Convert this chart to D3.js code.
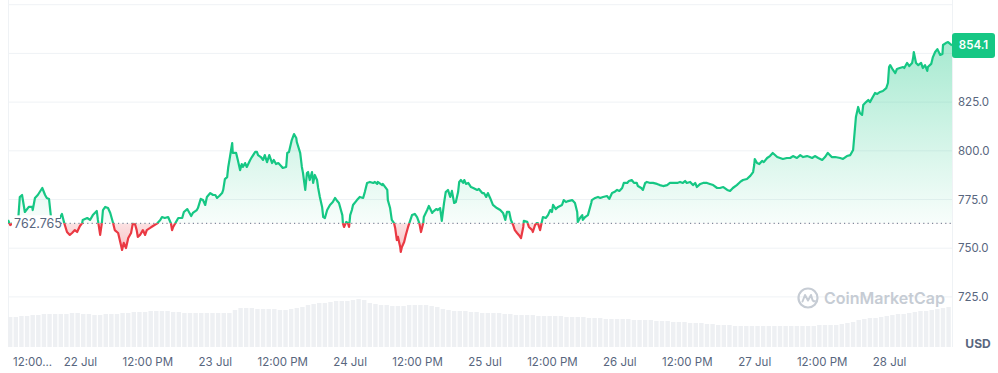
<!DOCTYPE html>
<html><head><meta charset="utf-8">
<script src="https://cdn.jsdelivr.net/npm/d3@7"></script>
<style>
body{margin:0;background:#fff;}
svg{display:block;font-family:Inter,"Noto Sans",sans-serif;}
</style>
</head><body>
<svg id="chart" width="998" height="373"></svg>
<script>
// ---------- DATA ----------
const startTime = "2024-07-21 11:12";
const endTime = "2024-07-28 11:12";
const priceHours = [
0.0,0.4,1.1,1.8,2.1,2.5,3.0,3.7,4.3,4.4,4.8,5.3,6.1,6.6,6.9,7.3,7.7,8.4,9.3,9.6,
10.0,10.5,11.0,11.4,11.9,12.3,12.8,13.2,13.3,14.1,14.6,15.1,15.8,16.0,16.4,16.7,16.9,17.3,17.8,18.2,
18.7,19.0,19.6,20.1,20.3,20.6,21.0,21.4,21.9,22.2,22.6,22.9,23.1,23.5,24.0,24.4,24.7,25.3,25.8,26.5,
27.1,27.4,27.9,28.5,29.0,29.2,29.4,30.1,30.3,31.0,31.3,31.9,32.0,32.6,32.9,33.6,33.8,34.3,34.7,35.1,
35.4,36.0,36.5,36.9,37.2,37.6,38.1,38.3,38.6,39.0,39.2,39.5,39.9,40.0,40.6,40.9,41.3,41.6,41.8,42.2,
42.5,43.1,43.4,44.0,44.3,44.5,45.0,45.4,45.7,46.1,46.5,47.0,47.3,47.7,48.1,48.6,48.9,49.5,49.7,50.0,
50.5,50.9,51.3,51.4,52.0,52.3,52.5,52.9,53.2,53.4,53.7,54.1,54.3,54.6,55.0,55.2,55.5,55.9,56.1,56.4,
56.8,57.3,57.8,58.2,58.6,58.9,59.5,59.6,59.8,60.2,60.5,60.7,60.9,61.2,61.4,62.1,62.6,63.2,63.5,63.9,
64.4,65.0,65.3,65.7,65.8,66.6,66.7,67.5,67.6,68.0,68.3,68.7,68.9,69.2,69.4,69.8,69.9,70.1,70.5,70.8,
71.2,71.5,71.9,72.4,72.8,73.2,73.5,73.9,74.0,74.6,74.9,75.5,75.6,76.2,76.5,76.9,77.2,77.6,77.9,78.3,
78.7,79.0,79.4,79.7,80.1,80.3,80.6,81.0,81.2,81.5,81.9,82.4,82.8,83.5,83.8,84.4,84.7,85.1,85.4,85.8,
86.3,87.0,87.6,88.1,88.5,88.8,89.2,89.5,89.9,90.2,90.6,90.9,91.3,91.7,91.8,92.4,92.7,93.3,93.4,93.8,
94.1,94.3,94.7,95.0,95.2,95.7,96.1,96.5,96.8,97.0,97.5,97.9,98.6,98.9,99.3,99.7,100.4,100.9,101.3,101.4,
101.8,102.2,102.3,102.7,103.2,103.8,103.9,104.5,105.0,105.4,105.9,106.6,107.0,107.5,107.9,108.4,108.8,109.3,109.6,110.2,
110.5,111.0,111.4,111.9,112.1,112.7,113.0,113.4,113.7,114.3,114.8,115.5,116.0,116.6,117.3,117.8,118.3,119.1,119.6,120.1,
120.5,120.8,121.4,121.9,122.3,122.6,123.2,123.7,124.4,124.9,125.5,126.2,126.7,127.3,128.0,128.5,129.0,129.7,130.3,130.8,
131.5,132.1,132.6,132.8,132.9,133.3,133.7,134.2,134.5,135.1,135.6,136.1,136.9,137.4,137.9,138.6,139.2,139.7,140.4,141.0,
141.5,142.2,142.7,143.1,143.6,144.2,144.9,145.4,145.9,146.6,147.2,148.1,148.6,149.3,149.9,150.4,150.6,150.9,151.1,151.3,
151.6,152.0,152.2,152.7,153.1,153.4,153.9,154.3,154.7,155.2,155.7,156.3,156.6,156.8,157.0,157.5,157.9,158.2,158.7,159.3,
159.5,160.0,160.4,160.9,161.1,161.2,161.6,162.0,162.5,162.8,163.2,163.6,163.7,164.3,164.6,165.0,165.4,165.9,166.3,166.4,
166.9,167.3,168.0];
const priceValues = [
764.5,761.9,763.5,764.0,776.3,777.3,768.6,771.2,771.2,769.6,775.8,777.3,780.9,777.3,775.8,775.3,764.5,764.0,766.0,767.6,
763.0,758.3,756.8,757.8,759.3,758.3,761.4,762.9,764.5,765.5,764.5,767.0,769.1,764.5,756.8,762.9,769.6,771.2,770.6,768.1,
762.9,759.3,757.8,751.6,749.1,752.7,750.1,755.2,757.8,762.5,762.4,759.3,755.8,756.8,759.3,756.8,759.3,760.4,761.4,762.6,
764.5,766.0,765.5,766.0,762.7,759.3,760.9,764.5,765.5,765.5,768.6,770.1,769.6,766.5,768.1,769.6,770.6,775.3,774.7,772.2,
776.3,778.3,777.3,777.3,775.8,776.8,778.3,779.9,785.5,786.5,791.7,796.8,804.0,798.9,798.9,795.3,790.1,793.2,791.7,793.7,
791.7,795.3,796.8,799.4,799.4,797.8,796.8,795.3,797.8,794.2,797.8,793.7,795.3,793.2,793.7,792.2,791.2,791.7,798.9,799.4,
805.5,808.6,806.6,804.5,798.9,791.7,788.6,779.9,788.6,789.1,785.0,789.1,783.5,787.6,785.0,780.9,776.3,771.2,766.0,765.5,
769.6,772.2,773.7,775.8,774.2,773.2,767.0,762.9,760.9,763.5,762.9,760.9,767.0,769.6,772.2,774.7,776.3,775.8,778.8,783.5,
784.0,783.5,784.0,783.0,784.0,782.4,783.0,779.9,774.7,770.6,764.5,762.9,760.4,754.2,755.8,750.6,748.1,750.6,753.2,756.8,
760.9,763.5,767.0,767.6,766.0,762.9,758.3,762.9,766.0,769.6,771.7,768.1,768.6,770.1,769.6,770.6,764.0,773.2,778.8,779.9,
776.3,779.4,773.2,773.7,778.8,784.0,785.0,783.5,785.0,783.0,783.5,781.4,780.9,779.9,780.4,778.3,778.3,776.3,778.3,775.8,
772.2,770.6,769.6,768.1,764.5,768.6,768.6,764.5,761.9,759.3,757.8,756.8,755.2,760.9,764.0,763.5,760.9,759.3,758.3,761.9,
762.9,762.9,759.3,763.5,766.0,765.5,767.0,769.6,768.6,772.2,770.1,771.2,772.2,774.7,773.7,774.2,774.7,773.2,768.6,763.5,
765.5,767.0,764.5,766.0,767.0,773.2,774.7,775.8,776.3,775.8,776.3,776.8,775.3,778.3,778.8,779.9,779.4,780.9,783.5,783.5,
784.5,785.0,783.5,783.5,781.9,780.9,779.9,783.5,784.0,783.5,783.5,783.0,782.4,781.9,782.4,783.5,783.5,783.5,784.0,783.5,
784.5,783.5,784.0,782.4,783.5,781.4,783.0,783.5,783.5,783.0,782.4,780.9,780.9,781.4,779.9,779.4,780.9,782.4,784.0,785.0,
785.5,787.1,789.1,792.7,795.8,793.7,793.2,794.8,794.2,796.3,797.3,798.9,796.8,796.3,795.8,796.3,796.3,797.3,796.3,797.8,
796.8,797.3,796.8,796.3,797.3,796.3,795.3,796.8,798.9,796.8,796.8,796.3,795.8,797.3,797.8,800.4,807.1,817.3,819.9,822.5,
819.4,818.4,823.5,825.0,826.1,825.0,827.6,829.7,829.2,830.2,830.7,832.2,834.8,843.0,844.0,841.5,839.9,842.0,842.5,843.0,
842.5,845.1,843.5,845.1,848.1,850.7,845.1,844.0,845.1,842.5,844.0,841.0,843.0,844.6,848.1,850.7,852.2,849.2,849.7,854.3,
855.3,855.8,854.1];
const baselineValue = 762.765;
const baselineLabel = "762.765";
const lastPriceLabel = "854.1";
// hourly volume (relative units)
const volumeValues = [
30,30,31,31,32,32,33,33,33,33, 33,34,34,33,33,32,32,33,33,33,
34,34,35,35,35,36,36,36,36,35, 35,34,34,34,34,34,34,34,34,34,
37,39,39,39,38,38,38,38,37,37, 38,39,40,42,43,44,44,45,46,46,
46,47,48,47,44,43,42,42,41,41, 41,42,42,42,42,41,40,38,37,36,
36,36,35,35,34,34,34,34,33,33, 32,32,32,32,31,31,31,31,31,30,
30,30,30,29,29,29,28,28,28,28, 28,27,27,27,27,26,26,26,25,25,
25,24,24,24,23,23,22,22,22,21, 21,21,21,21,21,21,21,21,21,21,
21,21,21,21,22,22,22,22,23,24, 25,27,28,29,29,30,31,32,33,33,
34,35,36,36,37,38,39,40];
const yGridValues = [725,750,775,800,825,850,875];
const yTickValues = [725,750,775,800,825];
const yTickLabels = ["725.0","750.0","775.0","800.0","825.0"];
const xTickTimes = ["2024-07-21 12:00","2024-07-22 00:00","2024-07-22 12:00","2024-07-23 00:00","2024-07-23 12:00",
  "2024-07-24 00:00","2024-07-24 12:00","2024-07-25 00:00","2024-07-25 12:00","2024-07-26 00:00",
  "2024-07-26 12:00","2024-07-27 00:00","2024-07-27 12:00","2024-07-28 00:00"];
const xTickLabels = ["12:00...","22 Jul","12:00 PM","23 Jul","12:00 PM","24 Jul","12:00 PM","25 Jul",
  "12:00 PM","26 Jul","12:00 PM","27 Jul","12:00 PM","28 Jul"];
const currencyLabel = "USD";
const watermarkText = "CoinMarketCap";

// ---------- SETUP ----------
const parse = d3.timeParse("%Y-%m-%d %H:%M");
const t0 = parse(startTime), t1 = parse(endTime);
const HOUR = 3600000;
const L = 8, R = 952, BOTTOM = 347;
const GREEN = "#16c784", RED = "#ea3943", GRID = "#eff2f5", TXT = "#58667e";

const x = d3.scaleTime().domain([t0, t1]).range([L, R]);
const y = d3.scaleLinear().domain([875, 725]).range([4.7, 296.9]);
const yVol = d3.scaleLinear().domain([0, 100]).range([BOTTOM, BOTTOM - 100]);

const data = priceHours.map((h, i) => ({t: new Date(+t0 + h * HOUR), v: priceValues[i]}));
const yb = y(baselineValue);

const svg = d3.select("#chart");
const defs = svg.append("defs");
defs.append("clipPath").attr("id","plot").append("rect").attr("x",L).attr("y",0).attr("width",R-L).attr("height",BOTTOM);
defs.append("clipPath").attr("id","above").append("rect").attr("x",L).attr("y",0).attr("width",R-L).attr("height",yb);
defs.append("clipPath").attr("id","below").append("rect").attr("x",L).attr("y",yb).attr("width",R-L).attr("height",BOTTOM-yb);
const gG = defs.append("linearGradient").attr("id","gGreen").attr("gradientUnits","userSpaceOnUse")
  .attr("x1",0).attr("x2",0).attr("y1",y(856)).attr("y2",yb);
gG.append("stop").attr("offset","0%").attr("stop-color",GREEN).attr("stop-opacity",0.38);
gG.append("stop").attr("offset","100%").attr("stop-color",GREEN).attr("stop-opacity",0.03);
const gR = defs.append("linearGradient").attr("id","gRed").attr("gradientUnits","userSpaceOnUse")
  .attr("x1",0).attr("x2",0).attr("y1",yb).attr("y2",y(748));
gR.append("stop").attr("offset","0%").attr("stop-color",RED).attr("stop-opacity",0.15);
gR.append("stop").attr("offset","100%").attr("stop-color",RED).attr("stop-opacity",0.32);

// grid
svg.append("g").selectAll("line").data(yGridValues).join("line")
  .attr("x1",L).attr("x2",R).attr("y1",d=>y(d)).attr("y2",d=>y(d))
  .attr("stroke",GRID).attr("stroke-width",1);
svg.append("line").attr("x1",L+0.5).attr("x2",L+0.5).attr("y1",0).attr("y2",BOTTOM).attr("stroke",GRID);
svg.append("line").attr("x1",R+0.5).attr("x2",R+0.5).attr("y1",0).attr("y2",BOTTOM).attr("stroke",GRID);

// volume bars
const barW = x(new Date(+t0 + HOUR)) - x(t0);
svg.append("g").attr("clip-path","url(#plot)").selectAll("rect").data(volumeValues).join("rect")
  .attr("x",(d,i)=>x(new Date(+t0 + i*HOUR)))
  .attr("width",barW-1.2)
  .attr("y",d=>yVol(d)).attr("height",d=>BOTTOM - yVol(d))
  .attr("fill","#eef0f3");

// watermark
const wm = svg.append("g").attr("transform","translate(808,298)");
wm.append("circle").attr("r",9.5).attr("fill","none").attr("stroke","#c6ccd4").attr("stroke-width",2.2);
wm.append("path").attr("d","M-5.5,3.5 L-3,-3 L0,2.5 L3,-3 L4.5,2 Q5.5,4 7,3")
  .attr("fill","none").attr("stroke","#c6ccd4").attr("stroke-width",2).attr("stroke-linejoin","round").attr("stroke-linecap","round");
svg.append("text").attr("x",824).attr("y",304).attr("font-size",16).attr("font-weight",600)
  .attr("fill","#c6ccd4").text(watermarkText);

// areas
const area = d3.area().x(d=>x(d.t)).y0(yb).y1(d=>y(d.v));
const line = d3.line().x(d=>x(d.t)).y(d=>y(d.v));
svg.append("path").datum(data).attr("d",area).attr("fill","url(#gGreen)").attr("clip-path","url(#above)");
svg.append("path").datum(data).attr("d",area).attr("fill","url(#gRed)").attr("clip-path","url(#below)");

// baseline
svg.append("line").attr("x1",L).attr("x2",R).attr("y1",yb).attr("y2",yb)
  .attr("stroke","#808a9d").attr("stroke-width",1.2).attr("stroke-dasharray","1.2,3.2");

// lines
svg.append("path").datum(data).attr("d",line).attr("fill","none").attr("stroke",GREEN)
  .attr("stroke-width",2.2).attr("stroke-linejoin","round").attr("clip-path","url(#above)");
svg.append("path").datum(data).attr("d",line).attr("fill","none").attr("stroke",RED)
  .attr("stroke-width",2.2).attr("stroke-linejoin","round").attr("clip-path","url(#below)");

// baseline label
svg.append("rect").attr("x",12).attr("y",yb-8).attr("width",48).attr("height",16).attr("fill","#fff");
svg.append("text").attr("x",14).attr("y",yb).attr("dy","0.35em").attr("font-size",12.5)
  .attr("fill",TXT).text(baselineLabel);

// y axis
const yAxis = d3.axisRight(y).tickValues(yTickValues).tickSize(0).tickPadding(0)
  .tickFormat((d,i)=>yTickLabels[i]);
const gy = svg.append("g").attr("transform",`translate(${R+6},0)`).call(yAxis);
gy.select(".domain").remove();
gy.selectAll("text").attr("font-family","Inter,sans-serif").attr("font-size",11.5).attr("fill",TXT);

// last price badge
const yl = y(priceValues[priceValues.length-1]);
svg.append("rect").attr("x",R).attr("y",yl-12.5).attr("width",43).attr("height",25).attr("rx",3).attr("fill",GREEN);
svg.append("text").attr("x",R+21.5).attr("y",yl).attr("dy","0.35em").attr("text-anchor","middle")
  .attr("font-size",11.5).attr("font-weight",600).attr("fill","#fff").text(lastPriceLabel);

// x axis
const xAxis = d3.axisBottom(x).tickValues(xTickTimes.map(parse)).tickSize(0).tickPadding(0)
  .tickFormat((d,i)=>xTickLabels[i]);
const gx = svg.append("g").attr("transform",`translate(0,${BOTTOM+11})`).call(xAxis);
gx.select(".domain").remove();
gx.selectAll("text").attr("font-family","Inter,sans-serif").attr("font-size",11.5).attr("fill",TXT);
gx.selectAll("text").filter((d,i)=>i===0).attr("text-anchor","start");

// currency
svg.append("text").attr("x",978).attr("y",344).attr("dy","0.35em").attr("text-anchor","middle")
  .attr("font-size",12).attr("font-weight",700).attr("fill",TXT).text(currencyLabel);
</script>
</body></html>
